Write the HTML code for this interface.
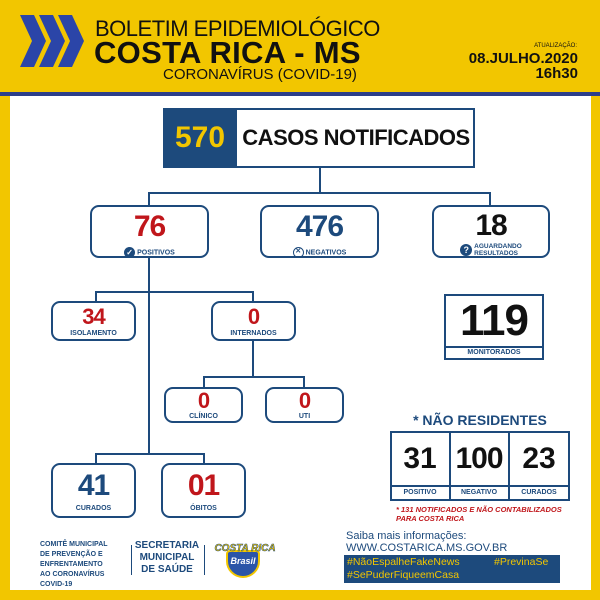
<!DOCTYPE html>
<html><head><meta charset="utf-8"><style>
*{margin:0;padding:0;box-sizing:border-box}
body{width:600px;height:600px;background:#f2c600;position:relative;overflow:hidden;font-family:"Liberation Sans",sans-serif;font-weight:bold}
.a{position:absolute}
.panel{left:10px;top:96px;width:581px;height:494px;background:#fff}
.box{position:absolute;border:2px solid #1d4a7c;border-radius:9px;background:#fff;text-align:center}
.num{font-size:30px;line-height:30px;font-weight:900;letter-spacing:-1px}
.lbl{font-size:7px;color:#1d4a7c}
.ln{position:absolute;background:#1d4a7c}
.red{color:#c0161b}.blue{color:#1d4a7c}.blk{color:#111}
</style></head><body>
<div class="a" style="left:0;top:92px;width:600px;height:4px;background:#2c3f8a"></div>
<div class="a panel"></div>
<svg class="a" style="left:20px;top:15px" width="64" height="52"><g fill="#2b45a8">
<polygon points="0,0 14,0 26,26 14,52 0,52 12,26"/><polygon points="19,0 33,0 45,26 33,52 19,52 31,26"/><polygon points="38,0 52,0 64,26 52,52 38,52 50,26"/></g></svg>
<div class="a" style="left:95px;top:16px;font-size:22px;font-weight:normal;color:#111;letter-spacing:-0.5px">BOLETIM EPIDEMIOLÓGICO</div>
<div class="a" style="left:94px;top:35px;font-size:31px;font-weight:900;color:#111;letter-spacing:0.3px">COSTA RICA - MS</div>
<div class="a" style="left:163px;top:66px;font-size:15px;font-weight:normal;color:#111">CORONAVÍRUS (COVID-19)</div>
<div class="a" style="left:520px;top:43px;width:57px;text-align:right;font-size:6px;color:#111;font-weight:normal">ATUALIZAÇÃO:</div>
<div class="a" style="left:440px;top:51px;width:138px;text-align:right;font-size:15px;line-height:15px;color:#111">08.JULHO.2020<br>16h30</div>

<div class="a" style="left:163px;top:108px;width:312px;height:60px;border:2px solid #1d4a7c;background:#fff"></div>
<div class="a" style="left:163px;top:108px;width:74px;height:60px;background:#1d4a7c;color:#f2c600;font-size:30px;line-height:60px;text-align:center;font-weight:900">570</div>
<div class="a" style="left:237px;top:108px;width:238px;line-height:60px;text-align:center;font-size:22px;color:#111;letter-spacing:-0.5px">CASOS NOTIFICADOS</div>

<div class="ln" style="left:319px;top:168px;width:2px;height:25px"></div>
<div class="ln" style="left:148px;top:192px;width:343px;height:2px"></div>
<div class="ln" style="left:148px;top:192px;width:2px;height:262px"></div>
<div class="ln" style="left:489px;top:192px;width:2px;height:14px"></div>
<div class="ln" style="left:95px;top:291px;width:159px;height:2px"></div>
<div class="ln" style="left:95px;top:291px;width:2px;height:11px"></div>
<div class="ln" style="left:252px;top:291px;width:2px;height:11px"></div>
<div class="ln" style="left:252px;top:340px;width:2px;height:38px"></div>
<div class="ln" style="left:203px;top:376px;width:101px;height:2px"></div>
<div class="ln" style="left:203px;top:376px;width:2px;height:12px"></div>
<div class="ln" style="left:303px;top:376px;width:2px;height:12px"></div>
<div class="ln" style="left:95px;top:453px;width:109px;height:2px"></div>
<div class="ln" style="left:95px;top:453px;width:2px;height:11px"></div>
<div class="ln" style="left:203px;top:453px;width:2px;height:11px"></div>

<div class="box" style="left:90px;top:205px;width:119px;height:53px"><div class="num red" style="margin-top:5px">76</div><div class="lbl" style="margin-top:5px"><span style="display:inline-block;width:11px;height:11px;border-radius:50%;background:#1d4a7c;color:#fff;font-size:8px;line-height:11px;vertical-align:middle">✓</span> POSITIVOS</div></div>
<div class="box" style="left:260px;top:205px;width:119px;height:53px"><div class="num blue" style="margin-top:5px">476</div><div class="lbl" style="margin-top:5px"><span style="display:inline-block;width:11px;height:11px;border-radius:50%;border:1.5px solid #1d4a7c;font-size:7px;line-height:8px;vertical-align:middle">✕</span> NEGATIVOS</div></div>
<div class="box" style="left:432px;top:205px;width:118px;height:53px"><div class="num blk" style="margin-top:4px">18</div><div class="lbl" style="margin-top:2px;line-height:7px"><span style="display:inline-block;width:12px;height:12px;border-radius:50%;background:#1d4a7c;color:#fff;font-size:9px;line-height:12px;vertical-align:middle">?</span> <span style="display:inline-block;vertical-align:middle;text-align:left;font-size:6.5px">AGUARDANDO<br>RESULTADOS</span></div></div>

<div class="box" style="left:51px;top:301px;width:85px;height:40px"><div class="num red" style="font-size:22px;line-height:22px;margin-top:3px">34</div><div class="lbl" style="margin-top:2px">ISOLAMENTO</div></div>
<div class="box" style="left:211px;top:301px;width:85px;height:40px"><div class="num red" style="font-size:22px;line-height:22px;margin-top:3px">0</div><div class="lbl" style="margin-top:2px">INTERNADOS</div></div>
<div class="box" style="left:164px;top:387px;width:79px;height:36px"><div class="num red" style="font-size:22px;line-height:22px;margin-top:1px">0</div><div class="lbl" style="margin-top:1px">CLÍNICO</div></div>
<div class="box" style="left:265px;top:387px;width:79px;height:36px"><div class="num red" style="font-size:22px;line-height:22px;margin-top:1px">0</div><div class="lbl" style="margin-top:1px">UTI</div></div>
<div class="box" style="left:51px;top:463px;width:85px;height:55px"><div class="num blue" style="margin-top:6px">41</div><div class="lbl" style="margin-top:4px">CURADOS</div></div>
<div class="box" style="left:161px;top:463px;width:85px;height:55px"><div class="num red" style="margin-top:6px">01</div><div class="lbl" style="margin-top:4px">ÓBITOS</div></div>

<div class="a" style="left:444px;top:294px;width:100px;height:66px;border:2px solid #1d4a7c"></div>
<div class="a" style="left:444px;top:346px;width:100px;height:2px;background:#1d4a7c"></div>
<div class="a blk" style="left:444px;top:297px;width:100px;text-align:center;font-size:44px;line-height:48px;font-weight:900;letter-spacing:-1px">119</div>
<div class="a lbl" style="left:444px;top:349px;width:100px;text-align:center">MONITORADOS</div>

<div class="a" style="left:390px;top:412px;width:180px;text-align:center;font-size:14px;color:#1d4a7c">* NÃO RESIDENTES</div>
<div class="a" style="left:390px;top:431px;width:180px;height:70px;border:2px solid #1d4a7c"></div>
<div class="a" style="left:390px;top:485px;width:180px;height:2px;background:#1d4a7c"></div>
<div class="a" style="left:449px;top:431px;width:2px;height:70px;background:#1d4a7c"></div>
<div class="a" style="left:508px;top:431px;width:2px;height:70px;background:#1d4a7c"></div>
<div class="a blk" style="left:390px;top:442px;width:60px;text-align:center;font-size:30px;font-weight:900">31</div>
<div class="a blk" style="left:449px;top:442px;width:60px;text-align:center;font-size:30px;font-weight:900;letter-spacing:-1px">100</div>
<div class="a blk" style="left:508px;top:442px;width:62px;text-align:center;font-size:30px;font-weight:900">23</div>
<div class="a lbl" style="left:390px;top:489px;width:60px;text-align:center">POSITIVO</div>
<div class="a lbl" style="left:449px;top:489px;width:60px;text-align:center">NEGATIVO</div>
<div class="a lbl" style="left:508px;top:489px;width:62px;text-align:center">CURADOS</div>
<div class="a red" style="left:396px;top:505px;font-size:7.5px;font-style:italic;line-height:9px">* 131 NOTIFICADOS E NÃO CONTABILIZADOS<br>PARA COSTA RICA</div>

<div class="a blue" style="left:40px;top:540px;font-size:7px;line-height:10px">COMITÊ MUNICIPAL<br>DE PREVENÇÃO E<br>ENFRENTAMENTO<br>AO CORONAVÍRUS<br>COVID-19</div>
<div class="a" style="left:131px;top:545px;width:1px;height:30px;background:#1d4a7c"></div>
<div class="a blue" style="left:134px;top:540px;width:66px;text-align:center;font-size:10px;line-height:12px">SECRETARIA<br>MUNICIPAL<br>DE SAÚDE</div>
<div class="a" style="left:204px;top:545px;width:1px;height:30px;background:#1d4a7c"></div>
<div class="a" style="left:226px;top:550px;width:34px;height:28px;background:#2b55a8;border-radius:4px 4px 17px 17px;border:2px solid #f2c600"></div>
<div class="a" style="left:210px;top:543px;width:70px;text-align:center;font-size:10px;color:#f2c600;font-style:italic;-webkit-text-stroke:0.5px #1d4a7c">COSTA RICA</div>
<div class="a" style="left:226px;top:556px;width:34px;text-align:center;font-size:9px;color:#fff;font-style:italic">Brasil</div>

<div class="a blue" style="left:346px;top:530px;font-size:11px;font-weight:normal">Saiba mais informações:</div>
<div class="a blue" style="left:346px;top:542px;font-size:11px;font-weight:normal">WWW.COSTARICA.MS.GOV.BR</div>
<div class="a" style="left:344px;top:555px;width:216px;height:28px;background:#1d4a7c"></div>
<div class="a" style="left:347px;top:556px;font-size:10.5px;font-weight:normal;color:#f2c600;line-height:13px">#NãoEspalheFakeNews<br>#SePuderFiqueemCasa</div>
<div class="a" style="left:494px;top:556px;font-size:10.5px;font-weight:normal;color:#f2c600;line-height:13px">#PrevinaSe</div>
</body></html>
